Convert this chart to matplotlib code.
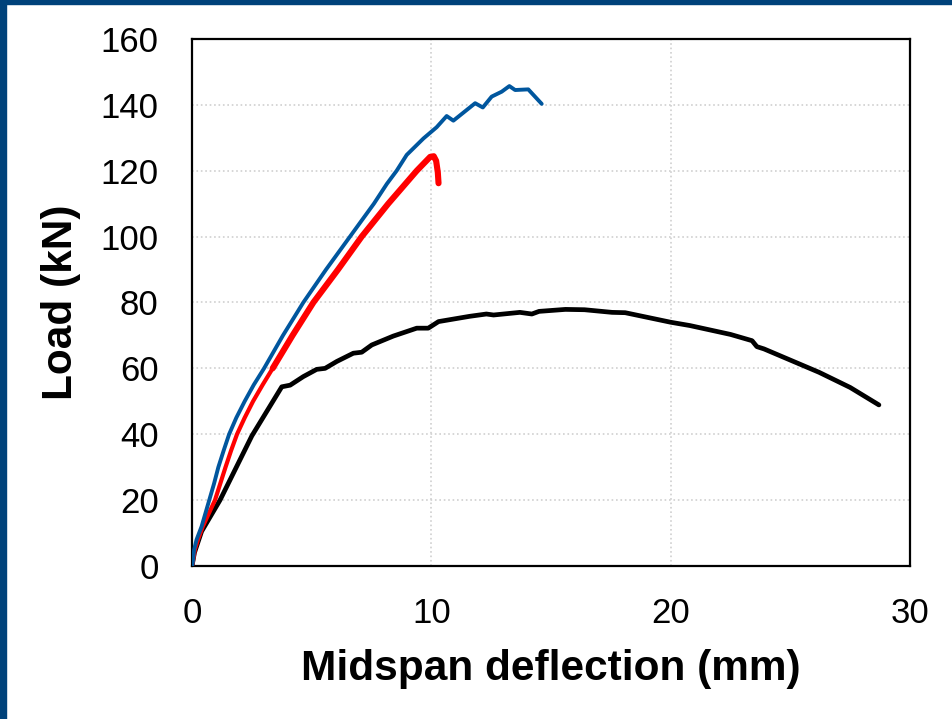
import matplotlib.pyplot as plt
from matplotlib.patches import Rectangle

plt.rcParams['font.family'] = ['Liberation Sans', 'DejaVu Sans']

# Black curve
black_x = [0, 0.1, 0.4, 1.17, 2.5, 3.75, 4.1, 4.65, 5.21, 5.56, 6.05, 6.74, 7.09,
           7.51, 8.41, 9.39, 9.87, 10.3, 11.6, 12.3, 12.6, 13.7, 14.2,
           14.5, 15.6, 16.4, 17.55, 18.1, 20.0, 20.8, 22.5, 23.4, 23.6, 23.9,
           26.2, 27.5, 28.7]
black_y = [0, 4, 10.5, 20, 39.5, 54.4, 54.9, 57.5, 59.7, 60, 62.1, 64.6, 64.9,
           67.1, 69.8, 72.2, 72.2, 74.2, 75.8, 76.5, 76.2, 77, 76.5,
           77.3, 77.9, 77.8, 77, 76.9, 74, 73, 70.3, 68.4, 66.6, 65.9,
           58.8, 54.2, 48.9]

# Red curve
red_x = [0, 0.03, 0.12, 0.25, 0.45, 0.96, 1.18, 1.4, 1.63, 1.88, 2.2, 2.55, 2.95,
         3.37, 4.2, 5.07, 6.1, 7.09, 8.2, 9.39, 9.95, 10.1, 10.2, 10.27, 10.3]
red_y = [0, 1, 5, 8, 12, 20, 25, 30, 35, 40, 45, 50, 55,
         60, 70, 80, 90, 100, 110, 120, 124.2, 124.4, 123, 119.5, 116.2]

# Blue curve
blue_x = [0, 0.03, 0.09, 0.19, 0.4, 0.72, 0.92, 1.1, 1.32, 1.55, 1.85, 2.2, 2.58,
          3.01, 3.8, 4.65, 5.6, 6.6, 7.6, 8.14, 8.55, 8.97, 9.67, 10.22, 10.64,
          10.92, 11.83, 12.15, 12.52, 12.94, 13.26, 13.5, 14.05, 14.61]
blue_y = [0, 1, 5, 8, 12, 20, 25, 30, 35, 40, 45, 50, 55,
          60, 70, 80, 90, 100, 110, 116, 120, 124.8, 129.8, 133.2, 136.6,
          135.2, 140.5, 139.2, 142.5, 144, 145.7, 144.5, 144.7, 140.3]

fig = plt.figure(figsize=(9.52, 7.19), dpi=100)
ax = fig.add_axes([0.2017, 0.2128, 0.7542, 0.733])

ax.plot(black_x, black_y, color='black', linewidth=3.4, solid_capstyle='round',
        solid_joinstyle='round', zorder=3)
# red line is drawn thinner at the start and heavier above ~64 kN
ax.plot(red_x, red_y, color='#FF0000', linewidth=3.0, solid_capstyle='round',
        solid_joinstyle='round', zorder=4)
ax.plot(red_x[13:], red_y[13:], color='#FF0000', linewidth=4.4, solid_capstyle='round',
        solid_joinstyle='round', zorder=4)
ax.plot(blue_x, blue_y, color='#00569E', linewidth=2.8, solid_capstyle='round',
        solid_joinstyle='round', zorder=5)

ax.set_xlim(0, 30)
ax.set_ylim(0, 160)
ax.set_xticks([0, 10, 20, 30])
ax.set_yticks(range(0, 161, 20))
ax.tick_params(length=0, labelsize=25)
ax.tick_params(axis='y', pad=24)
ax.tick_params(axis='x', pad=22)
ax.grid(True, color='#D0D0D0', linestyle=':', linewidth=1.2)
for s in ax.spines.values():
    s.set_linewidth(1.6)
    s.set_color('black')

ax.set_xlabel('Midspan deflection (mm)', fontsize=30.5, fontweight='bold', labelpad=14)
ax.set_ylabel('Load (kN)', fontsize=30.5, fontweight='bold', labelpad=14)

# Dark blue frame on the left and top
fig.patches.append(Rectangle((0, 0), 6 / 952, 1, transform=fig.transFigure,
                             color='#00427A', zorder=10))
fig.patches.append(Rectangle((0, 1 - 4 / 719), 1, 4 / 719, transform=fig.transFigure,
                             color='#00427A', zorder=10))

fig.savefig('out.png', dpi=100)
